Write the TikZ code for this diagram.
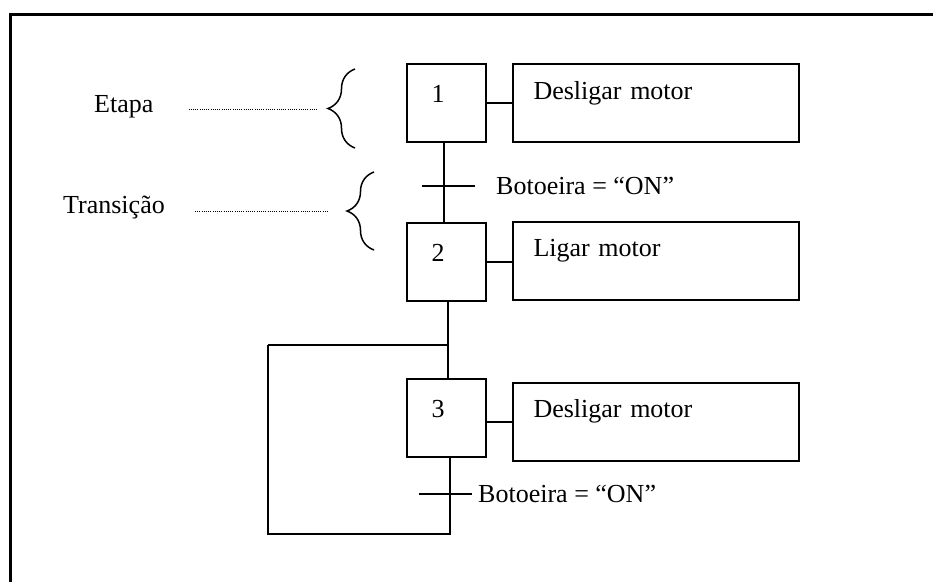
\documentclass[tikz,border=0pt]{standalone}
\usepackage{fontspec}
\setmainfont{Liberation Serif}
\usetikzlibrary{positioning, decorations.pathreplacing}

\begin{document}
\begin{tikzpicture}
    [
      x=1pt, y=-1pt,
      every node/.style = {font=\fontsize{26}{31}\selectfont},
      txt/.style = {inner sep=0},
      stepbox/.style = {draw, line width=2, minimum width=79, minimum height=78, inner sep=0,
                        text width=29, align=left, text height=18, text depth=19},
      actbox/.style = {draw, line width=2, minimum width=286, minimum height=78, inner sep=0,
                       text width=244, align=left, text height=18, text depth=26},
      wire/.style = {line width=2},
      leader/.style = {line width=1, dash pattern=on 1pt off 1.2pt},
      curly/.style = {line width=1.5, decorate, decoration={brace, amplitude=27}}
    ]

    \useasboundingbox (0,0) rectangle (933,582);
    \draw[line width=3] (10,582) |- (933,14);

    % steps and actions
    \node[stepbox] (s1) at (446,103) {1};
    \node[stepbox] (s2) at (446,262) {2};
    \node[stepbox] (s3) at (446,418) {3};
    \node[actbox, right=25 of s1] (a1) {Desligar motor};
    \node[actbox, right=25 of s2, yshift=1.5] (a2) {Ligar motor};
    \node[actbox, right=25 of s3, yshift=-3.5] (a3) {Desligar motor};
    \draw[wire] (s1.east) -- (a1.west);
    \draw[wire] (s2.east) -- (s2.east -| a2.west);
    \draw[wire] (a3.west) -- (a3.west -| s3.east);

    % transitions
    \coordinate (t1) at (444,186);
    \coordinate (t2) at (450,494);
    \draw[wire] ([xshift=-2]s1.south) -- ([xshift=-2]s1.south |- s2.north);
    \draw[wire] ([xshift=-22]t1) -- ([xshift=31]t1);
    \node[txt, right=52 of t1] (c1) {Botoeira = “ON”};
    \draw[wire] ([xshift=-31]t2) -- ([xshift=22]t2);
    \node[txt, right=28 of t2] (c2) {Botoeira = “ON”};

    % return loop
    \coordinate (lb) at (268,534);
    \coordinate (lt) at (268,345);
    \draw[wire] ([xshift=2]s2.south) -- ([xshift=2]s2.south |- s3.north);
    \draw[wire] (lt) -- ([xshift=3]lt -| s2.south);
    \draw[wire] ([xshift=4]s3.south) |- (lb) -- (lt);

    % legend
    \node[txt, anchor=base west] (etapa) at (94,112) {Etapa};
    \node[txt, anchor=base west] (trans) at (63,213) {Transição};
    \coordinate (b1) at (328,109);
    \coordinate (b2) at (347,211);
    \draw[curly] (355,148) -- (355,69);
    \draw[curly] (374,250) -- (374,172);
    \draw[leader] ([xshift=35]etapa.east |- b1) -- ([xshift=-10]b1);
    \draw[leader] ([xshift=30]trans.east |- b2) -- ([xshift=-19]b2);
\end{tikzpicture}
\end{document}
